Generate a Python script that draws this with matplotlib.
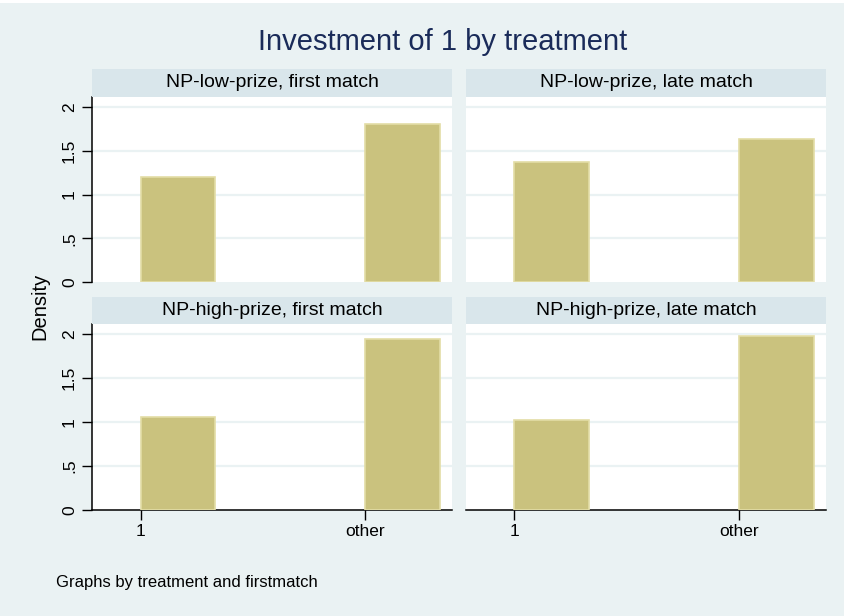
import matplotlib
matplotlib.use("Agg")
import matplotlib.pyplot as plt
from matplotlib.patches import Rectangle

plt.rcParams['font.family'] = ['Liberation Sans', 'DejaVu Sans']

# ---- data ----
panel_titles = ["NP-low-prize, first match", "NP-low-prize, late match",
                "NP-high-prize, first match", "NP-high-prize, late match"]
bin_starts = [1, 2]
tick_labels = ["1", "other"]
densities_tl = [1.20, 1.80]
densities_tr = [1.37, 1.63]
densities_bl = [1.06, 1.94]
densities_br = [1.02, 1.98]
bin_width = 1 / 3
yticks = [0, 0.5, 1, 1.5, 2]
ytick_labels = ["0", ".5", "1", "1.5", "2"]

W, H = 845, 616
BG = "#EAF2F3"
STRIP = "#D9E6EB"
BAR = "#CAC27E"
BAR_EDGE = "#E3DDA6"
TITLE_C = "#1A2B59"

fig = plt.figure(figsize=(W / 100, H / 100), dpi=100, facecolor=BG)
# thin white band on top
fig.patches.append(Rectangle((0, 1 - 3 / H), 1, 3 / H, transform=fig.transFigure,
                             facecolor="white", edgecolor="none", zorder=0))


def fx(px):
    return px / W


def fy(py):
    return 1 - py / H


panels = [
    (densities_tl, 92.3, 452, 96.7, 282.3, 69, True, False),
    (densities_tr, 466, 826, 96.7, 282.3, 69, False, False),
    (densities_bl, 92.3, 452, 323.7, 510.3, 297, True, True),
    (densities_br, 466, 826, 323.7, 510.3, 297, False, True),
]

for i, (dens, x0, x1, y0, y1, sy0, show_y, show_x) in enumerate(panels):
    ax = fig.add_axes([fx(x0), fy(y1), fx(x1) - fx(x0), fy(y0) - fy(y1)])
    ax.set_facecolor("white")
    ax.bar(bin_starts, dens, width=bin_width, align="edge", color=BAR,
           edgecolor=BAR_EDGE, linewidth=1.2, zorder=3)
    ax.set_xlim(0.784, 2.388)
    ax.set_ylim(0, 2.115)
    ax.set_yticks(yticks)
    for yv in yticks[1:]:
        ax.axhline(yv, color=BG, lw=1.6, zorder=1)
    for s in ["top", "right"]:
        ax.spines[s].set_visible(False)
    ax.spines["left"].set_visible(show_y)
    ax.spines["bottom"].set_visible(show_x)
    ax.spines["left"].set_linewidth(1.1)
    ax.spines["bottom"].set_linewidth(1.1)
    if show_y:
        ax.set_yticklabels(ytick_labels, rotation=90, va="center", fontsize=12.5)
        ax.tick_params(axis="y", length=7, width=1.0, pad=4)
    else:
        ax.tick_params(axis="y", left=False, labelleft=False)
    if show_x:
        ax.set_xticks(bin_starts)
        ax.set_xticklabels(tick_labels, fontsize=12.5)
        ax.tick_params(axis="x", length=7, width=1.0, pad=3)
    else:
        ax.set_xticks([])
    # strip header
    fig.patches.append(Rectangle((fx(x0), fy(y0)), fx(x1) - fx(x0), fy(sy0) - fy(y0),
                                 transform=fig.transFigure, facecolor=STRIP,
                                 edgecolor="none", zorder=0))
    fig.text(fx((x0 + x1) / 2), fy((sy0 + y0) / 2), panel_titles[i],
             ha="center", va="center", fontsize=14, color="black")

fig.text(fx(443), fy(42), "Investment of 1 by treatment", ha="center", va="center",
         fontsize=21, color=TITLE_C)
fig.text(fx(40), fy(306), "Density", rotation=90, ha="center", va="center",
         fontsize=14.5, color="black")
fig.text(fx(56), fy(583), "Graphs by treatment and firstmatch", ha="left", va="center",
         fontsize=12, color="black")

fig.savefig("out.png", dpi=100, facecolor=BG)
